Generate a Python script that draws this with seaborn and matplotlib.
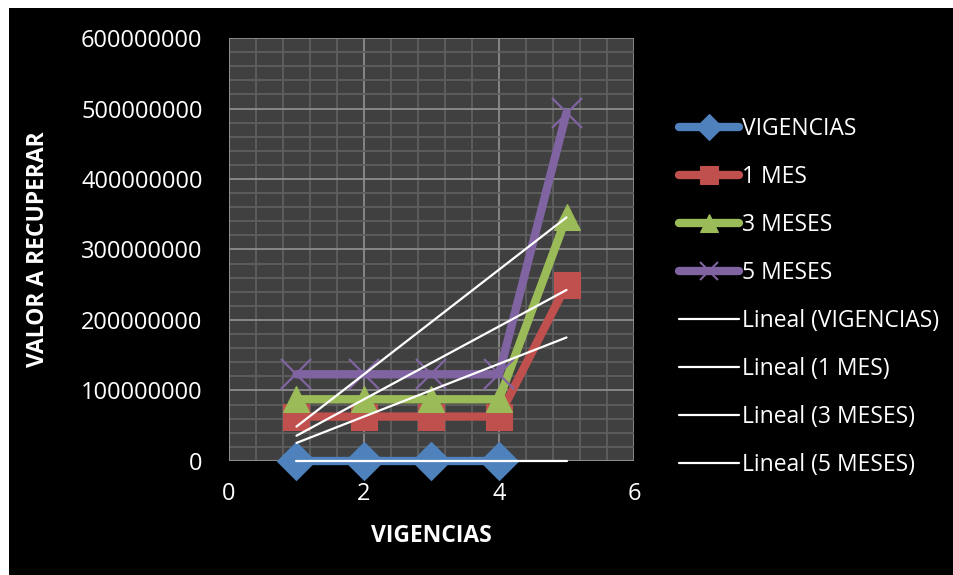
import matplotlib.pyplot as plt
import matplotlib.patches as mpatches
from matplotlib.lines import Line2D
import numpy as np
import pandas as pd
import seaborn as sns

# datos
vigencias = [1, 2, 3, 4, 5]
valor_vigencias = [0, 0, 0, 0]
valor_1_mes = [63000000, 63000000, 63000000, 63000000, 250000000]
valor_3_meses = [87500000, 87500000, 87500000, 87500000, 346000000]
valor_5_meses = [123000000, 123000000, 123000000, 123000000, 494000000]

nombres = ['VIGENCIAS', '1 MES', '3 MESES', '5 MESES']
colores = ['#4F81BD', '#C0504D', '#9BBB59', '#8064A2']
marcadores = ['D', 's', '^', 'x']

sns.set_style('dark')
plt.rcParams['font.family'] = ['Open Sans', 'DejaVu Sans']

fig = plt.figure(figsize=(9.54, 5.75), dpi=100, facecolor='white')
fig.patches.append(mpatches.Rectangle((9 / 954, 0), 1, 1 - 8 / 575, transform=fig.transFigure,
                                      facecolor='black', edgecolor='none', zorder=-5))
ax = fig.add_axes([0.240, 0.1983, 0.4246, 0.7356])
ax.set_facecolor('#404040')

series = [valor_vigencias, valor_1_mes, valor_3_meses, valor_5_meses]
tamanos = [19, 19, 19, 21]
for nombre, valores, color, m, t in zip(nombres, series, colores, marcadores, tamanos):
    df = pd.DataFrame({'x': vigencias[:len(valores)], 'y': valores})
    sns.lineplot(data=df, x='x', y='y', ax=ax, color=color, lw=6, marker=m, ms=t,
                 mew=1.6 if m == 'x' else 0.8, mec=color, zorder=3, clip_on=False)

# lineas de tendencia (lineal)
xs = np.array(vigencias)
for valores in series:
    p = np.polyfit(vigencias[:len(valores)], valores, 1)
    ax.plot(xs, np.polyval(p, xs), color='white', lw=1.6, zorder=4, clip_on=False)

ax.set_xlim(0, 6)
ax.set_ylim(0, 600000000)
ax.set_xticks([0, 2, 4, 6])
ax.set_yticks(np.arange(0, 600000001, 100000000))
ax.set_xticks(np.arange(0, 6.01, 0.4), minor=True)
ax.set_yticks(np.arange(0, 600000001, 20000000), minor=True)
ax.set_yticklabels([str(v) for v in range(0, 600000001, 100000000)])
ax.grid(which='major', color='#8c8c8c', lw=1.3)
ax.grid(which='minor', color='#5e5e5e', lw=1.3)
ax.set_axisbelow(True)
for s in ax.spines.values():
    s.set_visible(False)
ax.axhline(0, color='#8c8c8c', lw=1.5, zorder=2)
ax.axvline(0, color='#8c8c8c', lw=1.5, zorder=2)
ax.tick_params(which='major', colors='#8c8c8c', labelcolor='white', labelsize=17,
               length=6, width=1.3, direction='out', pad=13)
ax.tick_params(which='minor', length=0)
ax.tick_params(axis='x', pad=9)
ax.set_xlabel('VIGENCIAS', color='white', fontsize=16.5, fontweight='bold', labelpad=13)
ax.set_ylabel('VALOR A RECUPERAR', color='white', fontsize=16.5, fontweight='bold', labelpad=22)

handles = []
for color, m in zip(colores, marcadores):
    handles.append(Line2D([], [], color=color, lw=6, marker=m, ms=13, mec=color,
                          mew=1.5 if m == 'x' else 0.8, solid_capstyle='round'))
for _ in nombres:
    handles.append(Line2D([], [], color='white', lw=1.6))
etiquetas = nombres + ['Lineal (' + n + ')' for n in nombres]
leg = fig.legend(handles, etiquetas, loc='upper left', bbox_to_anchor=(0.712, 0.797),
                 frameon=False, fontsize=16.5, labelcolor='white', handlelength=2.6,
                 handletextpad=0.15, labelspacing=1.05, borderpad=0, borderaxespad=0)

fig.savefig('out.png', dpi=100, facecolor=fig.get_facecolor())
